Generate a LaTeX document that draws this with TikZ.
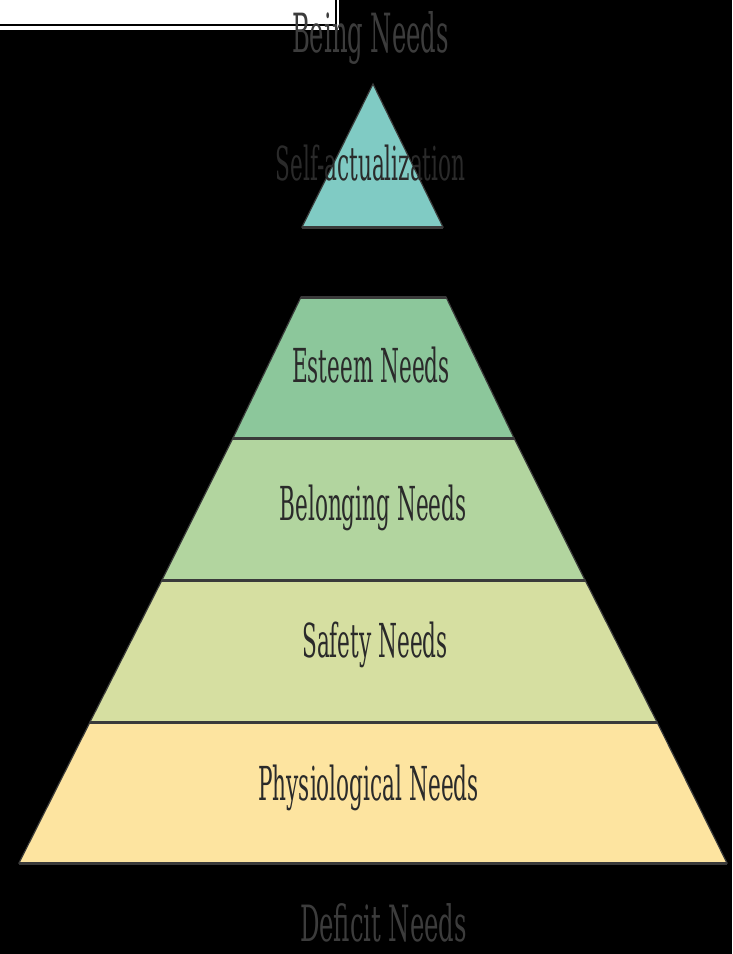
\documentclass[tikz,border=0pt]{standalone}
\usepackage{fontspec}
\setmainfont{DejaVu Serif Condensed}
\definecolor{edge}{HTML}{3A3A3A}
\definecolor{txt}{HTML}{2A2A2A}
\definecolor{head}{HTML}{3C3C3C}
\definecolor{cteal}{HTML}{80CBC4}
\definecolor{cesteem}{HTML}{8CC79B}
\definecolor{cbelong}{HTML}{B2D59F}
\definecolor{csafety}{HTML}{D6DFA1}
\definecolor{cphys}{HTML}{FDE4A0}
\newcommand{\lbl}[1]{\scalebox{1}[1.95]{#1}}
\newcommand{\hdl}[1]{\scalebox{1}[2.0]{#1}}
\newcommand{\hdlb}[1]{\scalebox{1}[1.85]{#1}}
\tikzset{
  layer/.style={draw=edge, line width=1.2pt, line join=miter},
  base/.style={draw=edge, line width=3pt},
  label/.style={anchor=base, inner sep=0pt, text=txt, font=\fontsize{24}{26}\selectfont},
  heading/.style={anchor=base, inner sep=0pt, text=head, font=\fontsize{27}{29}\selectfont},
}
\begin{document}
\begin{tikzpicture}[x=1pt,y=-1pt]
\fill[black] (0,0) rectangle (732,954);
\useasboundingbox (0,0) rectangle (732,954);
% white box at top left
\fill[white] (0,0) rectangle (339,30);
\draw[black, line width=2pt] (0,25) -- (336,25) -- (336,0);
% pyramid
\path[layer, fill=cteal] (373,84) -- (443,227) -- (302,227) -- cycle;
\draw[base] (302,227) -- (443,227);
\path[layer, fill=cesteem] (301,297) -- (446,297) -- (514,438) -- (233,438) -- cycle;
\draw[base] (301,297) -- (446,297);
\path[layer, fill=cbelong] (233,438) -- (514,438) -- (585,580) -- (162,580) -- cycle;
\path[layer, fill=csafety] (162,580) -- (585,580) -- (657,722) -- (90,722) -- cycle;
\path[layer, fill=cphys] (90,722) -- (657,722) -- (727,863) -- (19,863) -- cycle;
\draw[base] (233,438) -- (514,438);
\draw[base] (162,580) -- (585,580);
\draw[base] (90,722) -- (657,722);
\draw[base] (19,863) -- (727,863);
% labels
\node[heading] (being) at (370.5,52) {\hdl{Being Needs}};
\node[label] (self) at (370.5,180) {\lbl{Self-actualization}};
\node[label] (esteem) at (371,382) {\lbl{Esteem Needs}};
\node[label] (belong) at (373,520) {\lbl{Belonging Needs}};
\node[label] (safety) at (375,657) {\lbl{Safety Needs}};
\node[label] (phys) at (368.5,800) {\lbl{Physiological Needs}};
\node[heading] (deficit) at (383.5,941) {\hdlb{Deficit Needs}};
\end{tikzpicture}
\end{document}
